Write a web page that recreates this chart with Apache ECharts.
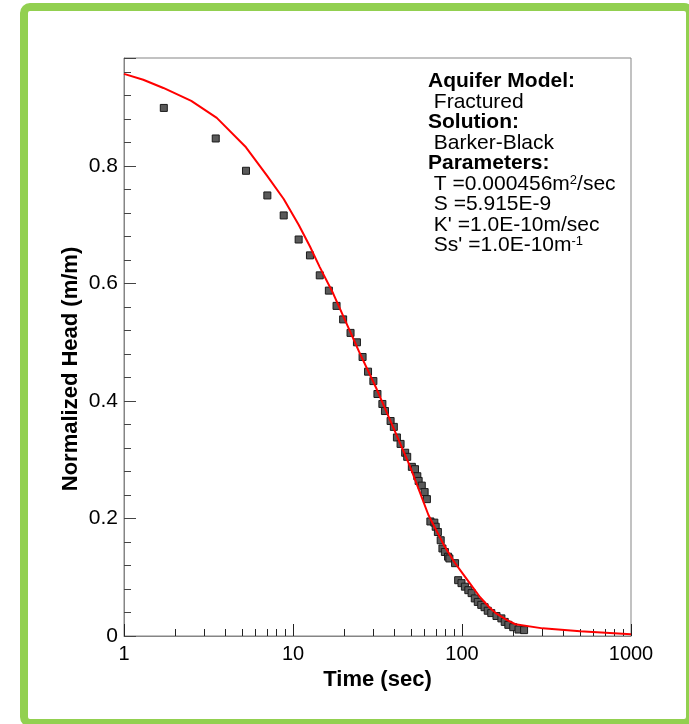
<!DOCTYPE html>
<html>
<head>
<meta charset="utf-8">
<script src="https://cdn.jsdelivr.net/npm/echarts@6/dist/echarts.min.js"></script>
<style>
  html, body { margin: 0; padding: 0; background: #fff; }
  #chart { width: 689px; height: 724px; }
</style>
</head>
<body>
<div id="chart"></div>
<script>
// fitted type curve (Barker-Black)
const curveTime = [1, 1.3, 1.71, 2.5, 3.54, 5.27, 7.05, 8.81, 10.8, 12.6, 14.4, 17.3,
  24.6, 31.3, 37.6, 49.4, 63.3, 77.7, 90, 100, 115, 128, 145, 160, 185, 207, 300, 500, 1000];
const curveHead = [0.957, 0.947, 0.933, 0.911, 0.882, 0.832, 0.783, 0.744, 0.700, 0.663, 0.628, 0.583,
  0.484, 0.420, 0.367, 0.288, 0.206, 0.156, 0.126, 0.108, 0.084, 0.066, 0.049, 0.038, 0.027, 0.020, 0.013, 0.008, 0.003];

// observed normalized head
const obsTime = [1.72, 3.49, 5.27, 7.05, 8.81, 10.8, 12.6, 14.4, 16.3, 18.1,
  19.8, 21.9, 23.9, 25.8, 27.8, 29.9, 31.6, 33.8, 35.0, 37.8,
  39.5, 41.2, 43.3, 46.1, 47.4, 50.5, 52.7, 54.4, 55.4, 57.8,
  60.1, 62.0, 65.0, 68.6, 69.9, 72.0, 74.8, 76.6, 79.2, 82.7,
  84.2, 91.0, 94.9, 99.3, 104, 109, 114, 119, 124, 130,
  136, 142, 149, 160, 171, 179, 188, 201, 216, 233];
const obsHead = [0.899, 0.847, 0.792, 0.750, 0.716, 0.675, 0.648, 0.614, 0.588, 0.562,
  0.539, 0.516, 0.500, 0.475, 0.450, 0.434, 0.412, 0.395, 0.383, 0.366,
  0.356, 0.338, 0.327, 0.312, 0.305, 0.288, 0.284, 0.272, 0.264, 0.256,
  0.245, 0.233, 0.195, 0.193, 0.186, 0.177, 0.163, 0.149, 0.143, 0.135,
  0.132, 0.124, 0.095, 0.090, 0.084, 0.078, 0.073, 0.064, 0.058, 0.053,
  0.049, 0.043, 0.039, 0.034, 0.030, 0.024, 0.019, 0.015, 0.011, 0.010];

// minor ticks on the log axis
const xMinorTicks = [2, 3, 4, 5, 6, 7, 8, 9, 20, 30, 40, 50, 60, 70, 80, 90, 200, 300, 400, 500, 600, 700, 800, 900];

const infoLines = [
  '{b|Aquifer Model:}',
  '{r| Fractured}',
  '{b|Solution:}',
  '{r| Barker-Black}',
  '{b|Parameters:}',
  '{r| T =0.000456m}{sup|2}{r|/sec}',
  '{r| S =5.915E-9}',
  "{r| K' =1.0E-10m/sec}",
  "{r| Ss' =1.0E-10m}{sup|-1}"
];

const FONT = "'Liberation Sans', Arial, sans-serif";
const frameColor = '#858585';

const chartDom = document.getElementById('chart');
const myChart = echarts.init(chartDom);

const option = {
  animation: false,
  backgroundColor: '#fff',
  title: {
    left: 428,
    top: 71,
    padding: 0,
    text: infoLines.join('\n'),
    textStyle: {
      fontFamily: FONT,
      fontSize: 21,
      lineHeight: 20.5,
      fontWeight: 'normal',
      color: '#000',
      rich: {
        b: { fontFamily: FONT, fontSize: 21, lineHeight: 20.5, fontWeight: 'bold', color: '#000' },
        r: { fontFamily: FONT, fontSize: 21, lineHeight: 20.5, color: '#000' },
        sup: { fontFamily: FONT, fontSize: 13, lineHeight: 14, verticalAlign: 'top', color: '#000' }
      }
    }
  },
  graphic: [
    {
      // green outer frame
      type: 'rect',
      shape: { x: 24, y: 7, width: 666, height: 716, r: 6 },
      style: { fill: 'none', stroke: '#92d050', lineWidth: 8 },
      z: 10
    },
    {
      type: 'text',
      x: 71,
      y: 369,
      rotation: Math.PI / 2,
      style: {
        text: 'Normalized Head (m/m)',
        font: "bold 22px 'Liberation Sans', Arial, sans-serif",
        fill: '#000',
        align: 'center',
        verticalAlign: 'middle'
      }
    }
  ],
  grid: {
    left: 124,
    top: 58,
    width: 507,
    height: 578,
    show: true,
    borderColor: frameColor,
    borderWidth: 1,
    backgroundColor: 'transparent'
  },
  xAxis: [
    {
      type: 'log',
      logBase: 10,
      min: 1,
      max: 1000,
      name: 'Time (sec)',
      nameLocation: 'middle',
      nameGap: 29,
      nameTextStyle: { fontFamily: FONT, fontSize: 22, fontWeight: 'bold', color: '#000' },
      axisLine: { show: true, lineStyle: { color: frameColor, width: 1 } },
      axisTick: { show: true, inside: true, length: 12, lineStyle: { color: '#222' } },
      minorTick: { show: false },
      splitLine: { show: false },
      axisLabel: { fontFamily: FONT, fontSize: 20, color: '#000', margin: 8, formatter: (v) => String(v) }
    },
    {
      // minor ticks only
      type: 'log',
      logBase: 10,
      min: 1,
      max: 1000,
      position: 'bottom',
      axisLine: { show: false },
      axisTick: { show: true, inside: true, length: 7, customValues: xMinorTicks, lineStyle: { color: '#222' } },
      axisLabel: { show: false },
      splitLine: { show: false }
    }
  ],
  yAxis: [
    {
      type: 'value',
      min: 0,
      max: 0.984,
      interval: 0.2,
      axisLine: { show: true, lineStyle: { color: frameColor, width: 1 } },
      axisTick: { show: true, inside: true, length: 12, lineStyle: { color: '#444' } },
      splitLine: { show: false },
      axisLabel: {
        fontFamily: FONT,
        fontSize: 21,
        color: '#000',
        margin: 6,
        formatter: (v) => {
          if (Math.abs(v * 5 - Math.round(v * 5)) > 1e-6) return '';
          return v === 0 ? '0' : v.toFixed(1);
        }
      }
    },
    {
      // minor ticks only
      type: 'value',
      min: 0,
      max: 0.984,
      interval: 0.04,
      position: 'left',
      axisLine: { show: false },
      axisTick: { show: true, inside: true, length: 7, lineStyle: { color: '#444' } },
      axisLabel: { show: false },
      splitLine: { show: false }
    }
  ],
  series: [
    {
      name: 'Observed',
      type: 'scatter',
      xAxisIndex: 0,
      yAxisIndex: 0,
      symbol: 'rect',
      symbolSize: 7,
      itemStyle: { color: '#5a5a5a', borderColor: '#1a1a1a', borderWidth: 1, opacity: 1 },
      data: obsTime.map((t, i) => [t, obsHead[i]]),
      z: 2
    },
    {
      name: 'Barker-Black',
      type: 'line',
      xAxisIndex: 0,
      yAxisIndex: 0,
      showSymbol: false,
      symbol: 'none',
      smooth: false,
      lineStyle: { color: '#ff0000', width: 2 },
      data: curveTime.map((t, i) => [t, curveHead[i]]),
      z: 3
    }
  ]
};

option && myChart.setOption(option);
</script>
</body>
</html>
